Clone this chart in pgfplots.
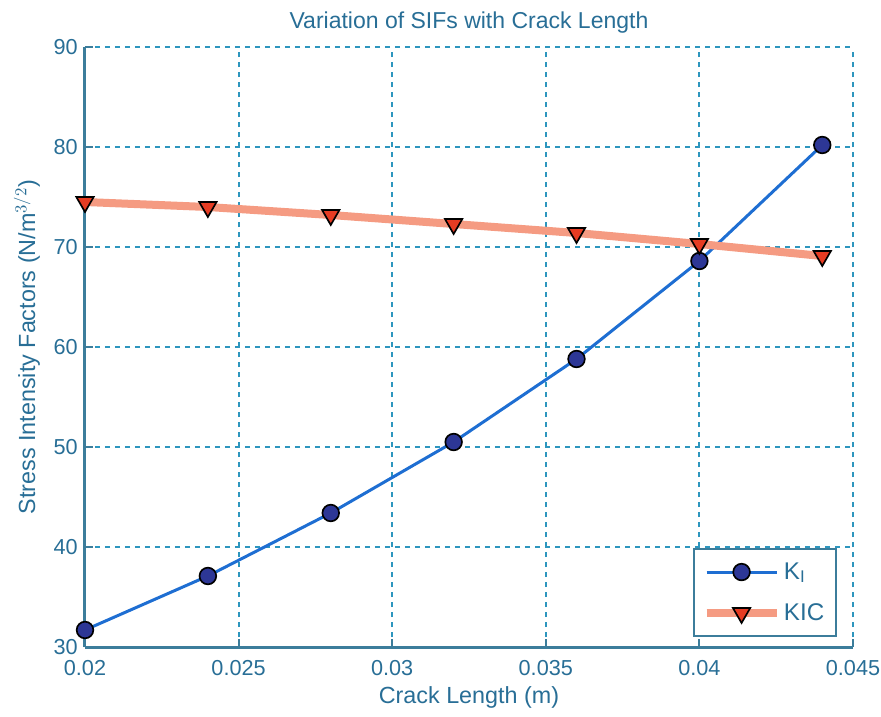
\documentclass[border=0pt]{standalone}
\usepackage{pgfplots}
\pgfplotsset{compat=1.18}
\usepackage{fontspec}
\setmainfont{Liberation Sans}
\setsansfont{Liberation Sans}

\definecolor{txtblue}{RGB}{40,110,150}
\definecolor{axisblue}{RGB}{60,125,155}
\definecolor{gridblue}{RGB}{45,150,190}
\definecolor{kiline}{RGB}{30,110,210}
\definecolor{kimark}{RGB}{45,55,150}
\definecolor{kicline}{RGB}{245,155,130}
\definecolor{kicmark}{RGB}{230,60,35}

\pgfplotstableread{
x      ki    kic
0.020  31.7  74.5
0.024  37.1  74.0
0.028  43.4  73.2
0.032  50.5  72.3
0.036  58.8  71.4
0.040  68.6  70.3
0.044  80.2  69.1
}\sifdata

\begin{document}
\begin{tikzpicture}[x=1pt,y=1pt]
\begin{axis}[
  at={(0,0)}, anchor=south west,
  scale only axis,
  width=460.8pt, height=360pt,
  xmin=0.02, xmax=0.045, ymin=30, ymax=90,
  xtick={0.02,0.025,0.03,0.035,0.04,0.045},
  xticklabels={0.02,0.025,0.03,0.035,0.04,0.045},
  scaled x ticks=false,
  ytick={30,40,50,60,70,80,90},
  /pgf/number format/assume math mode=true,
  axis lines*=left,
  axis line style={-, axisblue, line width=1.8pt},
  tick align=inside,
  major tick length=5pt,
  tick style={axisblue, line width=1.2pt},
  ticklabel style={font=\fontsize{13}{15}\selectfont, text=txtblue},
  xticklabel style={anchor=base, inner sep=0pt, yshift=-16.8pt},
  yticklabel style={anchor=east, inner sep=0pt, xshift=-4.2pt},
  grid=major,
  major grid style={gridblue, dash pattern=on 3pt off 3pt, line width=1.2pt},
  title={Variation of SIFs with Crack Length},
  every axis title shift=0pt,
  title style={font=\fontsize{13.8}{15}\selectfont, text=txtblue, inner sep=0pt,
    at={(axis description cs:0.5,1)}, anchor=base, yshift=11pt},
  xlabel={Crack Length (m)},
  xlabel style={font=\fontsize{14}{16}\selectfont, text=txtblue, inner sep=0pt,
    at={(axis description cs:0.5,0)}, anchor=base, yshift=-33.6pt},
  ylabel={Stress Intensity Factors (N/m$^{3/2}$)},
  ylabel style={font=\fontsize{14}{16}\selectfont, text=txtblue, inner sep=0pt,
    at={(axis description cs:-0.0651,0.5)}, anchor=base},
  legend style={at={(0.979,0.0167)}, anchor=south east, draw=axisblue, line width=1.2pt,
    font=\fontsize{14.5}{16}\selectfont, text=txtblue, inner xsep=5pt, inner ysep=6pt,
    row sep=9pt},
  legend cell align=left,
  legend image code/.code={
    \draw[mark repeat=2, mark phase=2, #1] plot coordinates {(0pt,0pt) (21pt,0pt) (42pt,0pt)};
  },
]
\addplot[kiline, line width=1.8pt, mark=*, mark size=5pt,
  mark options={fill=kimark, draw=black, line width=1pt}]
  table[x=x, y=ki] {\sifdata};
\addlegendentry{K$_\mathrm{I}$}
\addplot[kicline, line width=4.8pt, mark=triangle*, mark size=6pt,
  mark options={fill=kicmark, draw=black, line width=1pt, rotate=180}]
  table[x=x, y=kic] {\sifdata};
\addlegendentry{KIC}
\end{axis}
\path (-51pt,-41.4pt) rectangle (477.6pt,388.2pt);
\end{tikzpicture}
\end{document}
